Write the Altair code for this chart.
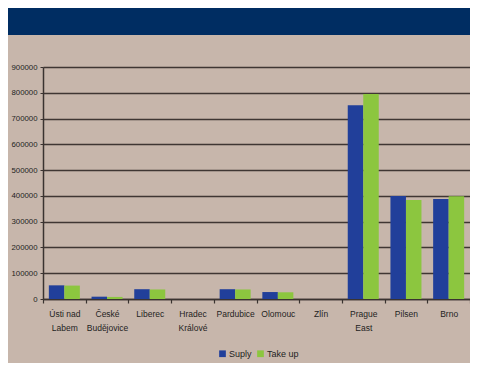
import altair as alt
import pandas as pd

cities = ["Ústi nad|Labem", "České|Budějovice", "Liberec", "Hradec|Králové", "Pardubice",
          "Olomouc", "Zlín", "Prague|East", "Pilsen", "Brno"]
suply = [53000, 9000, 38000, 0, 38000, 27000, 0, 752000, 400000, 388000]
take_up = [52000, 8000, 37000, 0, 37000, 26000, 0, 795000, 384000, 399000]
series = ["Suply", "Take up"]
colors = ["#213F9A", "#8CC63F"]
y_ticks = [0, 100000, 200000, 300000, 400000, 500000, 600000, 700000, 800000, 900000]

rows = []
for c, s, t in zip(cities, suply, take_up):
    rows.append({"city": c, "series": series[0], "value": s})
    rows.append({"city": c, "series": series[1], "value": t})
df = pd.DataFrame(rows)

W, H = 427, 232
PL, PT = 35, 59

bars = alt.Chart(df).mark_bar().encode(
    x=alt.X("city:N", sort=cities, title=None,
            scale=alt.Scale(paddingInner=0, paddingOuter=0),
            axis=alt.Axis(labelExpr="split(datum.label, '|')", labelAngle=0,
                          tickBand="extent", labelFontSize=8.5, labelColor="#1e1e1e",
                          labelFont="Liberation Sans", labelLineHeight=14,
                          labelPadding=6, tickSize=4, tickColor="#3a3330",
                          domainColor="#3a3330", domainWidth=1.5, tickWidth=1.2,
                          labelBaseline="top")),
    xOffset=alt.XOffset("series:N", sort=series,
                        scale=alt.Scale(paddingInner=0, paddingOuter=0.377)),
    y=alt.Y("value:Q", title=None,
            scale=alt.Scale(domain=[0, 900000], nice=False),
            axis=alt.Axis(values=y_ticks, format="d", labelFontSize=7.8,
                          labelColor="#1e1e1e", labelFont="Liberation Sans",
                          labelPadding=3, tickSize=3, tickColor="#3a3330",
                          domainColor="#3a3330", domainWidth=1.5,
                          gridColor="#3f3633", gridWidth=1.5)),
    color=alt.Color("series:N", sort=series,
                    scale=alt.Scale(domain=series, range=colors),
                    legend=alt.Legend(title=None, orient="none", direction="horizontal",
                                      legendX=175, legendY=282, symbolType="square",
                                      symbolSize=45, labelFontSize=9,
                                      labelFont="Liberation Sans", labelColor="#1e1e1e",
                                      symbolStrokeWidth=0, columnPadding=4,
                                      labelOffset=2)),
)

banner = alt.Chart(pd.DataFrame({"a": [0]})).mark_rect(color="#002D62").encode(
    x=alt.value(-PL - 10), x2=alt.value(W + 20),
    y=alt.value(-PT - 10), y2=alt.value(27 - PT),
)

chart = alt.layer(bars, banner).properties(
    width=W, height=H,
    autosize=alt.AutoSizeParams(type="none"),
    padding={"left": PL, "top": PT, "right": 0, "bottom": 64},
    background="#C7B6AB",
).configure_view(stroke=None)

chart.save("out.html", embed_options={"renderer": "svg", "actions": False})
